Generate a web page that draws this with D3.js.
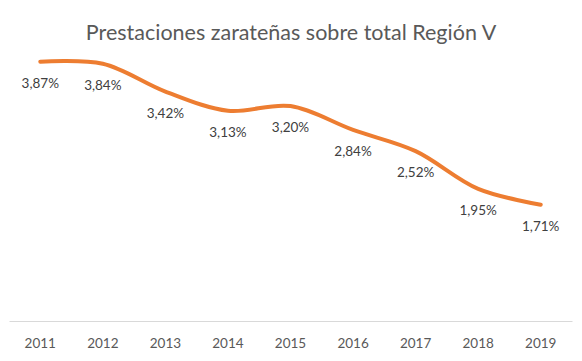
<!DOCTYPE html>
<html>
<head>
<meta charset="utf-8">
<script src="https://cdn.jsdelivr.net/npm/d3@7"></script>
<style>
  body { margin: 0; background: #fff; }
  text { font-family: Lato, "Open Sans", sans-serif; }
</style>
</head>
<body>
<script>
const years = ["2011", "2012", "2013", "2014", "2015", "2016", "2017", "2018", "2019"];
const shares = [3.87, 3.84, 3.42, 3.13, 3.20, 2.84, 2.52, 1.95, 1.71];
const title = "Prestaciones zarateñas sobre total Región V";

const width = 582, height = 361;
const plot = { left: 9, right: 572, top: 20, bottom: 318 };

const svg = d3.select("body").append("svg")
  .attr("width", width)
  .attr("height", height);

const x = d3.scaleBand()
  .domain(years)
  .range([plot.left, plot.right]);

const y = d3.scaleLinear()
  .domain([0, 4.5])
  .range([plot.bottom, plot.top]);

const fmt = v => d3.format(".2f")(v).replace(".", ",") + "%";

svg.append("text")
  .attr("x", 291)
  .attr("y", 40)
  .attr("text-anchor", "middle")
  .attr("font-size", 21.5)
  .attr("fill", "#595959")
  .text(title);

// category axis
const axis = svg.append("g")
  .attr("transform", `translate(0,${plot.bottom + 3})`)
  .call(d3.axisBottom(x).tickSize(0).tickPadding(17));
axis.select(".domain").attr("stroke", "#d9d9d9").attr("stroke-width", 1);
axis.selectAll("text")
  .attr("font-size", 13.5)
  .attr("fill", "#595959")
  .style("font-family", "Lato, sans-serif");

const cx = d => x(d) + x.bandwidth() / 2;

const line = d3.line()
  .x((d, i) => cx(years[i]))
  .y(d => y(d))
  .curve(d3.curveCatmullRom.alpha(0.5));

svg.append("path")
  .datum(shares)
  .attr("fill", "none")
  .attr("stroke", "#ed7d31")
  .attr("stroke-width", 4)
  .attr("stroke-linecap", "round")
  .attr("d", line);

svg.selectAll(".lbl")
  .data(shares)
  .enter().append("text")
  .attr("class", "lbl")
  .attr("x", (d, i) => cx(years[i]))
  .attr("y", d => y(d) + 26)
  .attr("text-anchor", "middle")
  .attr("font-size", 13.5)
  .attr("fill", "#404040")
  .text(fmt);
</script>
</body>
</html>
